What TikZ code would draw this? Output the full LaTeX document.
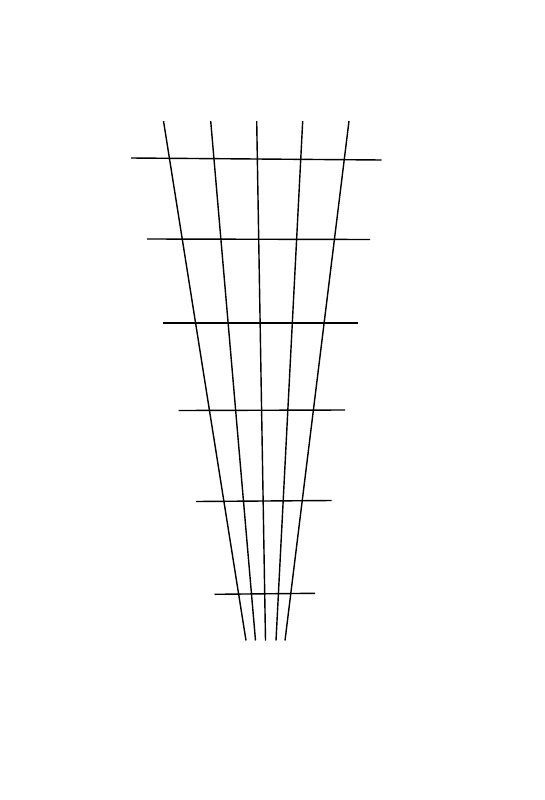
\documentclass[tikz,border=0pt]{standalone}
\begin{document}
\begin{tikzpicture}[x=0.05cm, y=-0.05cm, line width=2pt]
            \useasboundingbox (0, 0) rectangle (544, 800);

            % converging rails
            \foreach \t/\b in {163.5/246, 210.7/255.5, 256.7/265.5, 302.7/276, 349/285} {
                \draw (\t, 121) -- (\b, 640.5);
            }

            % cross bars
            \foreach \l/\r/\yl/\yr in {131/381.5/158/160, 147/370/239/239.5, 163/357.5/323/323,
                                       178.5/345/410.5/410, 196/331.5/501.5/500.5, 214.5/315/594.3/593.3} {
                \draw (\l, \yl) -- (\r, \yr);
            }
        \end{tikzpicture}
\end{document}
